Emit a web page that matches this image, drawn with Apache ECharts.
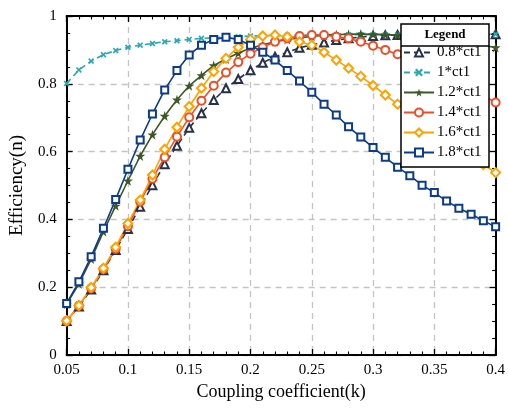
<!DOCTYPE html>
<html>
<head>
<meta charset="utf-8">
<script src="https://cdn.jsdelivr.net/npm/echarts@6/dist/echarts.min.js"></script>
<style>
  html, body { margin: 0; padding: 0; background: #fff; }
  #chart { width: 508px; height: 412px; }
</style>
</head>
<body>
<div id="chart"></div>
<script>
// coupling coefficient k (x values)
const coupling = [0.05, 0.06, 0.07, 0.08, 0.09, 0.10, 0.11, 0.12, 0.13, 0.14, 0.15, 0.16,
    0.17, 0.18, 0.19, 0.20, 0.21, 0.22, 0.23, 0.24, 0.25, 0.26, 0.27, 0.28,
    0.29, 0.30, 0.31, 0.32, 0.33, 0.34, 0.35, 0.36, 0.37, 0.38, 0.39, 0.40];

// efficiency
const eff08 = [0.100, 0.143, 0.193, 0.250, 0.310, 0.372, 0.437, 0.501, 0.563, 0.617, 0.670, 0.713,
    0.752, 0.787, 0.814, 0.840, 0.862, 0.880, 0.893, 0.906, 0.915, 0.922, 0.929, 0.934,
    0.938, 0.941, 0.943, 0.944, 0.945, 0.945, 0.946, 0.946, 0.946, 0.946, 0.946, 0.946];
const eff10 = [0.801, 0.841, 0.867, 0.886, 0.898, 0.908, 0.914, 0.919, 0.924, 0.927, 0.931, 0.934,
    0.936, 0.938, 0.939, 0.941, 0.942, 0.943, 0.943, 0.944, 0.944, 0.944, 0.944, 0.945,
    0.945, 0.945, 0.945, 0.945, 0.945, 0.945, 0.946, 0.946, 0.946, 0.946, 0.946, 0.946];
const eff12 = [0.150, 0.210, 0.283, 0.364, 0.440, 0.514, 0.587, 0.650, 0.705, 0.753, 0.794, 0.825,
    0.854, 0.873, 0.891, 0.905, 0.915, 0.924, 0.931, 0.936, 0.940, 0.943, 0.945, 0.946,
    0.947, 0.946, 0.945, 0.943, 0.941, 0.938, 0.934, 0.930, 0.925, 0.919, 0.913, 0.907];
const eff14 = [0.100, 0.145, 0.197, 0.253, 0.313, 0.380, 0.452, 0.520, 0.583, 0.644, 0.701, 0.750,
    0.794, 0.833, 0.864, 0.889, 0.908, 0.924, 0.934, 0.941, 0.944, 0.944, 0.939, 0.934,
    0.924, 0.912, 0.900, 0.887, 0.872, 0.856, 0.839, 0.821, 0.803, 0.784, 0.765, 0.745];
const eff16 = [0.101, 0.146, 0.199, 0.256, 0.318, 0.388, 0.457, 0.531, 0.607, 0.672, 0.733, 0.787,
    0.836, 0.875, 0.908, 0.931, 0.941, 0.944, 0.939, 0.924, 0.914, 0.893, 0.870, 0.846,
    0.822, 0.795, 0.767, 0.740, 0.713, 0.687, 0.661, 0.636, 0.611, 0.587, 0.562, 0.538];
const eff18 = [0.152, 0.216, 0.290, 0.374, 0.459, 0.548, 0.634, 0.711, 0.782, 0.839, 0.885, 0.914,
    0.931, 0.937, 0.931, 0.914, 0.893, 0.870, 0.839, 0.808, 0.775, 0.740, 0.708, 0.673,
    0.643, 0.612, 0.583, 0.554, 0.529, 0.501, 0.479, 0.454, 0.433, 0.415, 0.396, 0.378];

const seriesNames = ['0.8*ct1', '1*ct1', '1.2*ct1', '1.4*ct1', '1.6*ct1', '1.8*ct1'];

const serif = '"Liberation Serif", "DejaVu Serif", serif';
const starPath = 'path://M50,0 L61,35 L98,35 L68,57 L79,91 L50,70 L21,91 L32,57 L2,35 L39,35 Z';
const crossPath = 'path://M2,0 L5,3 L8,0 L10,2 L7,5 L10,8 L8,10 L5,7 L2,10 L0,8 L3,5 L0,2 Z';

function pairs(ys) {
    return coupling.map((k, i) => [k, ys[i]]);
}

function lineSeries(name, ys, color, symbol, size, dashed) {
    return {
        name: name,
        type: 'line',
        data: pairs(ys),
        symbol: symbol,
        symbolSize: size,
        showAllSymbol: true,
        lineStyle: { color: color, width: 1.6, type: dashed ? [6, 4] : 'solid' },
        itemStyle: { color: color, borderWidth: 1.5 },
        emphasis: { disabled: true }
    };
}

const chart = echarts.init(document.getElementById('chart'));

const axisLine = { show: true, onZero: false, lineStyle: { color: '#000', width: 2 } };
const tick = { show: true, inside: true, length: 6, lineStyle: { color: '#000', width: 1.3 } };
const minor = { show: true, length: 3.5, lineStyle: { color: '#000', width: 1.1 } };
const grid = { show: true, lineStyle: { color: '#c4c4c4', width: 1.3, type: [6, 5] } };

const option = {
    animation: false,
    grid: { left: 60, right: 11, top: 16, bottom: 57, containLabel: false },
    xAxis: [{
        type: 'value', min: 0.05, max: 0.4, interval: 0.05,
        name: 'Coupling coefficient(k)', nameLocation: 'middle', nameGap: 28,
        nameTextStyle: { fontFamily: serif, fontSize: 18, color: '#000' },
        axisLine: axisLine, axisTick: tick, minorTick: Object.assign({ splitNumber: 5 }, minor),
        splitLine: grid,
        axisLabel: { fontFamily: serif, fontSize: 15, color: '#000', margin: 8,
            formatter: v => String(+v.toFixed(2)) }
    }, {
        type: 'value', min: 0.05, max: 0.4, interval: 0.05, position: 'top',
        axisLine: axisLine, axisTick: tick, minorTick: Object.assign({ splitNumber: 5 }, minor),
        splitLine: { show: false }, axisLabel: { show: false }
    }],
    yAxis: [{
        type: 'value', min: 0, max: 1, interval: 0.2,
        name: 'Efficiency(n)', nameLocation: 'middle', nameGap: 36,
        nameTextStyle: { fontFamily: serif, fontSize: 19, color: '#000' },
        axisLine: axisLine, axisTick: tick, minorTick: Object.assign({ splitNumber: 4 }, minor),
        splitLine: grid,
        axisLabel: { fontFamily: serif, fontSize: 15, color: '#000', margin: 10,
            formatter: v => String(+v.toFixed(1)) }
    }, {
        type: 'value', min: 0, max: 1, interval: 0.2, position: 'right',
        axisLine: axisLine, axisTick: tick, minorTick: Object.assign({ splitNumber: 4 }, minor),
        splitLine: { show: false }, axisLabel: { show: false }
    }],
    legend: {
        orient: 'vertical', left: 403, top: 45, z: 20, padding: 0,
        itemWidth: 30, itemHeight: 10, itemGap: 5,
        textStyle: { fontFamily: serif, fontSize: 15, color: '#000', padding: [0, 0, 0, -2] },
        data: seriesNames
    },
    graphic: [{
        type: 'rect', z: 10,
        shape: { x: 401, y: 24, width: 88, height: 143 },
        style: { fill: '#fff', stroke: '#000', lineWidth: 1.5 }
    }, {
        type: 'line', z: 11,
        shape: { x1: 401, y1: 46, x2: 489, y2: 46 },
        style: { stroke: '#000', lineWidth: 1.5 }
    }, {
        type: 'text', z: 11, x: 445, y: 35,
        style: { text: 'Legend', fontFamily: serif, fontSize: 13, fontWeight: 'bold',
            fill: '#000', align: 'center', verticalAlign: 'middle' }
    }],
    series: [
        lineSeries(seriesNames[0], eff08, '#27324a', 'emptyTriangle', 8, true),
        lineSeries(seriesNames[1], eff10, '#2aa9b1', crossPath, 6, true),
        lineSeries(seriesNames[2], eff12, '#3b5826', starPath, 10, false),
        lineSeries(seriesNames[3], eff14, '#ef4d27', 'emptyCircle', 8, false),
        lineSeries(seriesNames[4], eff16, '#ffa200', 'emptyDiamond', 9, false),
        lineSeries(seriesNames[5], eff18, '#0b3b8a', 'emptyRect', 7, false)
    ]
};

chart.setOption(option);
</script>
</body>
</html>
